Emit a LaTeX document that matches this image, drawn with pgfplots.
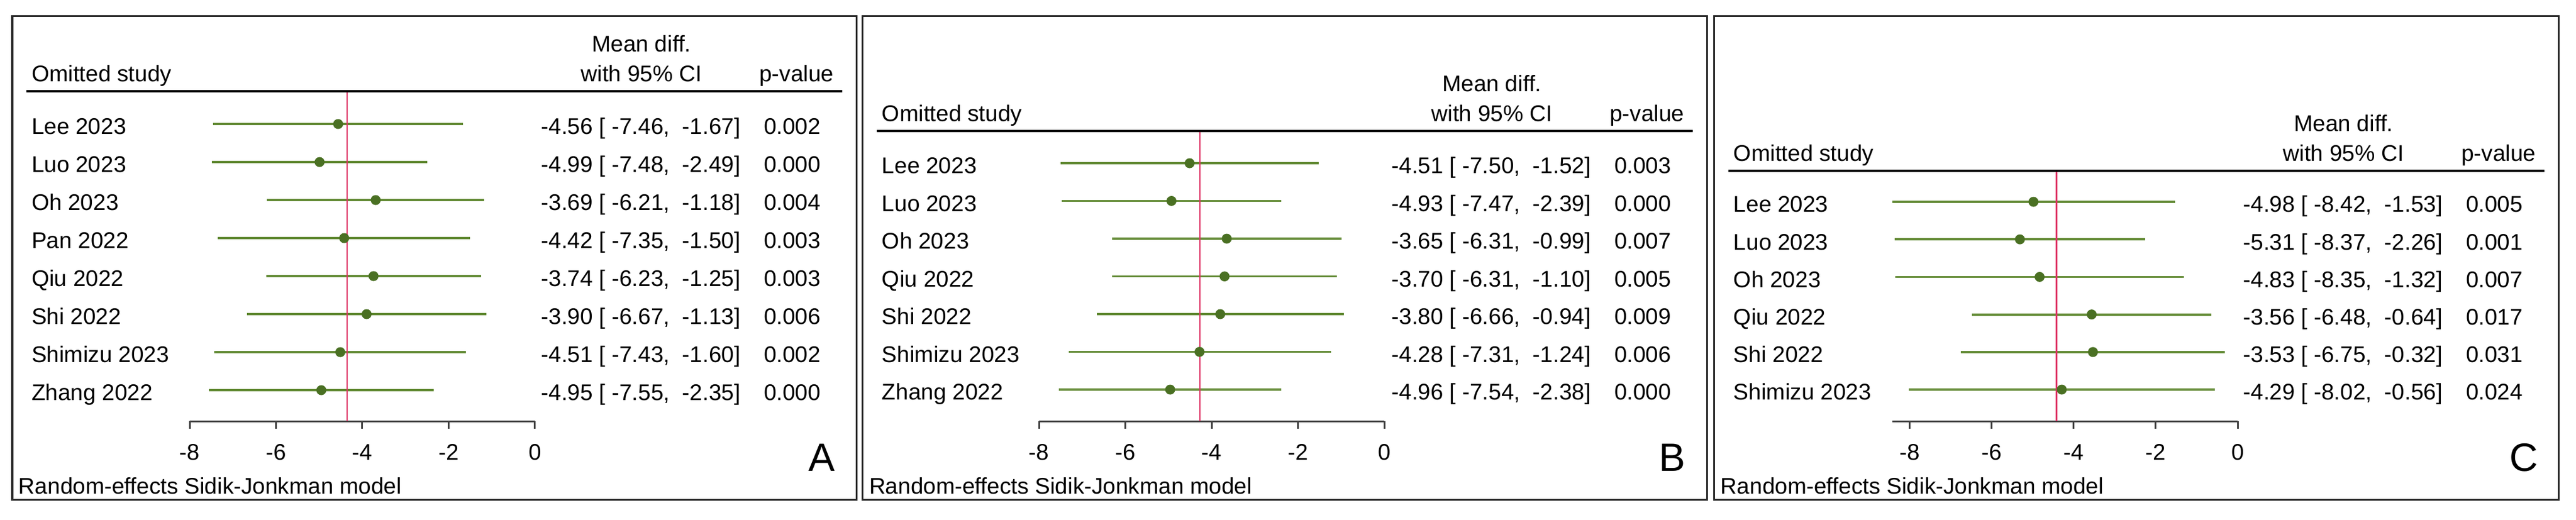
\documentclass[border=0pt]{standalone}
\usepackage{fontspec}
\setmainfont{Liberation Sans}
\usepackage{pgfplots}
\usepackage{pgfplotstable}
\pgfplotsset{compat=1.18}

\definecolor{cigreen}{RGB}{98,138,52}
\definecolor{dotgreen}{RGB}{74,112,35}
\definecolor{overall}{RGB}{222,50,100}

\newcommand\fs{\fontsize{7.75}{9}\selectfont}

% leave-one-out tables: row, estimate, lower, upper
\pgfplotstableread{
row est lo hi
1 -4.56 -7.46 -1.67
2 -4.99 -7.48 -2.49
3 -3.69 -6.21 -1.18
4 -4.42 -7.35 -1.50
5 -3.74 -6.23 -1.25
6 -3.90 -6.67 -1.13
7 -4.51 -7.43 -1.60
8 -4.95 -7.55 -2.35
}\tabA
\pgfplotstableread{
row est lo hi
1 -4.51 -7.50 -1.52
2 -4.93 -7.47 -2.39
3 -3.65 -6.31 -0.99
4 -3.70 -6.31 -1.10
5 -3.80 -6.66 -0.94
6 -4.28 -7.31 -1.24
7 -4.96 -7.54 -2.38
}\tabB
\pgfplotstableread{
row est lo hi
1 -4.98 -8.42 -1.53
2 -5.31 -8.37 -2.26
3 -4.83 -8.35 -1.32
4 -3.56 -6.48 -0.64
5 -3.53 -6.75 -0.32
6 -4.29 -8.02 -0.56
}\tabC

\pgfplotsset{
  loo/.style={
    scale only axis, width=118pt, clip=false,
    xmax=0,
    axis x line=bottom, axis y line=none,
    x axis line style={-, line width=0.6pt, black!75},
    xtick={-8,-6,-4,-2,0},
    tick align=outside, major tick length=2.6pt,
    tick style={line width=0.6pt, black!75},
    xticklabel style={font=\fs, inner sep=0pt, text height=0.716em, text depth=0pt, yshift=-3.4pt},
    /pgf/number format/assume math mode=true,
  },
  ci/.style={only marks, mark=*, mark size=1.5pt, color=dotgreen,
    error bars/.cd, x dir=both, x explicit, error mark=none,
    error bar style={cigreen, line width=0.75pt}},
}

\newcommand\studyrow[5]{%
  \node[anchor=west] at (#1+32,#2) {#3};
  \node[anchor=east] at (#1+1245,#2) {#4};
  \node[anchor=east] at (#1+1382,#2) {#5};}

\newcommand\panel[3]{%
  \draw[line width=0.7pt] (#1+24,#2) -- (#1+1418,#2);
  \node[anchor=west] at (#1+32,#2-34) {Omitted study};
  \node at (#1+1075,#2-85) {Mean diff.};
  \node at (#1+1075,#2-34) {with 95\% CI};
  \node at (#1+1340,#2-34) {p-value};
  \node[anchor=west] at (#1+10,827) {Random-effects Sidik-Jonkman model};
  \node[font=\fontsize{13.5}{14}\selectfont] at (#1+1383,788) {#3};
  \draw[line width=0.6pt, black!85] (#1,27) rectangle (#1+1443,854);}

\begin{document}
\begin{tikzpicture}[font=\fs]

\begin{axis}[loo, at={(64.8pt,-144pt)}, anchor=south west, height=112.8pt,
  xmin=-8, ymin=-8.815, ymax=-0.1385]
  \addplot[ci] table[x=est, y expr=-\thisrow{row},
    x error minus expr=\thisrow{est}-\thisrow{lo},
    x error plus expr=\thisrow{hi}-\thisrow{est}] {\tabA};
  \addplot[overall, line width=0.5pt] coordinates {(-4.35,-0.1385) (-4.35,-8.815)};
\end{axis}

\begin{axis}[loo, at={(355pt,-144pt)}, anchor=south west, height=99.2pt,
  xmin=-8, ymin=-7.837, ymax=-0.1473]
  \addplot[ci] table[x=est, y expr=-\thisrow{row},
    x error minus expr=\thisrow{est}-\thisrow{lo},
    x error plus expr=\thisrow{hi}-\thisrow{est}] {\tabB};
  \addplot[overall, line width=0.5pt] coordinates {(-4.27,-0.1473) (-4.27,-7.837)};
\end{axis}

\begin{axis}[loo, at={(646.6pt,-144pt)}, anchor=south west, height=85.6pt,
  xmin=-8.42, ymin=-6.841, ymax=-0.1745]
  \addplot[ci] table[x=est, y expr=-\thisrow{row},
    x error minus expr=\thisrow{est}-\thisrow{lo},
    x error plus expr=\thisrow{hi}-\thisrow{est}] {\tabC};
  \addplot[overall, line width=0.5pt] coordinates {(-4.42,-0.1745) (-4.42,-6.841)};
\end{axis}

\begin{scope}[x=0.2pt, y=-0.2pt,
  every node/.style={inner sep=0pt, text height=0.716em, text depth=0pt}]
  \panel{21}{156}{A}
  \studyrow{21}{212}{Lee 2023}{-4.56 [ -7.46,\ \ -1.67]}{0.002}
  \studyrow{21}{277}{Luo 2023}{-4.99 [ -7.48,\ \ -2.49]}{0.000}
  \studyrow{21}{342}{Oh 2023}{-3.69 [ -6.21,\ \ -1.18]}{0.004}
  \studyrow{21}{407}{Pan 2022}{-4.42 [ -7.35,\ \ -1.50]}{0.003}
  \studyrow{21}{472}{Qiu 2022}{-3.74 [ -6.23,\ \ -1.25]}{0.003}
  \studyrow{21}{537}{Shi 2022}{-3.90 [ -6.67,\ \ -1.13]}{0.006}
  \studyrow{21}{602}{Shimizu 2023}{-4.51 [ -7.43,\ \ -1.60]}{0.002}
  \studyrow{21}{667}{Zhang 2022}{-4.95 [ -7.55,\ \ -2.35]}{0.000}

  \panel{1474}{224}{B}
  \studyrow{1474}{279}{Lee 2023}{-4.51 [ -7.50,\ \ -1.52]}{0.003}
  \studyrow{1474}{343.5}{Luo 2023}{-4.93 [ -7.47,\ \ -2.39]}{0.000}
  \studyrow{1474}{408}{Oh 2023}{-3.65 [ -6.31,\ \ -0.99]}{0.007}
  \studyrow{1474}{472.5}{Qiu 2022}{-3.70 [ -6.31,\ \ -1.10]}{0.005}
  \studyrow{1474}{537}{Shi 2022}{-3.80 [ -6.66,\ \ -0.94]}{0.009}
  \studyrow{1474}{601.5}{Shimizu 2023}{-4.28 [ -7.31,\ \ -1.24]}{0.006}
  \studyrow{1474}{666}{Zhang 2022}{-4.96 [ -7.54,\ \ -2.38]}{0.000}

  \panel{2929}{292}{C}
  \studyrow{2929}{345}{Lee 2023}{-4.98 [ -8.42,\ \ -1.53]}{0.005}
  \studyrow{2929}{409.2}{Luo 2023}{-5.31 [ -8.37,\ \ -2.26]}{0.001}
  \studyrow{2929}{473.4}{Oh 2023}{-4.83 [ -8.35,\ \ -1.32]}{0.007}
  \studyrow{2929}{537.6}{Qiu 2022}{-3.56 [ -6.48,\ \ -0.64]}{0.017}
  \studyrow{2929}{601.8}{Shi 2022}{-3.53 [ -6.75,\ \ -0.32]}{0.031}
  \studyrow{2929}{666}{Shimizu 2023}{-4.29 [ -8.02,\ \ -0.56]}{0.024}
\end{scope}

\pgfresetboundingbox
\path[use as bounding box] (0,0) rectangle (880.2pt,-177.6pt);
\end{tikzpicture}
\end{document}
